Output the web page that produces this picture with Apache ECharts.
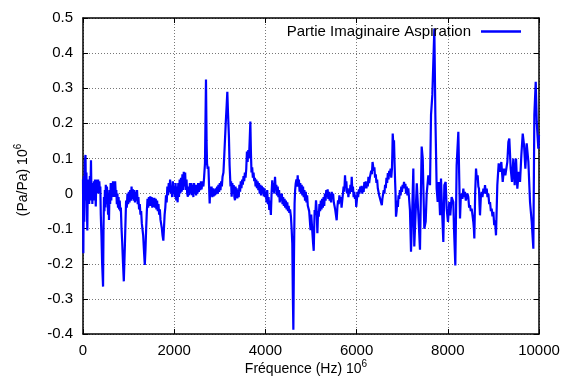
<!DOCTYPE html>
<html>
<head>
<meta charset="utf-8">
<script src="https://cdn.jsdelivr.net/npm/echarts@6/dist/echarts.min.js"></script>
<style>html,body{margin:0;padding:0;background:#fff}#c{width:563px;height:383px}</style>
</head>
<body>
<div id="c"></div>
<script>
// Imaginary part vs frequency, [Hz, value] pairs, in segments
var seg0to1000 = [[0,0.04],[8,-0.17],[18,0.05],[28,-0.08],[40,0.09],[55,0.11],[65,-0.02],[75,0.06],[85,-0.04],[95,-0.105],[105,0.03],[115,-0.02],[125,0.04],[135,-0.03],[150,0.05],[160,-0.02],[175,0.095],[185,0.0],[195,0.03],[205,-0.03],[215,0.02],[228,-0.02],[240,0.035],[252,-0.01],[263,0.04],[272,0.0],[280,-0.037],[290,0.03],[300,0.0],[312,0.04],[322,0.005],[332,0.04],[345,0.0],[358,0.035],[368,0.01],[380,0.02],[390,-0.06],[405,-0.12],[420,-0.2],[440,-0.265],[450,-0.1],[460,-0.01],[470,-0.05],[480,0.01],[490,-0.04],[500,0.025],[512,-0.03],[525,0.02],[540,-0.02],[550,-0.06],[562,0.0],[570,-0.075],[582,0.01],[595,-0.03],[608,0.03],[620,-0.02],[632,0.03],[645,-0.01],[658,0.035],[670,0.0],[682,0.03],[694,-0.01],[705,0.035],[718,0.0],[730,0.01],[742,-0.03],[755,0.0],[768,-0.04],[780,-0.01],[792,-0.045],[805,-0.02],[818,-0.05],[830,-0.04],[845,-0.1],[860,-0.14],[878,-0.2],[895,-0.25],[906,-0.25],[918,-0.15],[930,-0.09],[945,-0.02],[960,-0.04],[975,0.0],[990,-0.03]];
var seg1000to2600 = [[1005,0.005],[1020,-0.025],[1035,0.01],[1050,-0.02],[1065,0.02],[1080,-0.015],[1095,0.012],[1110,-0.02],[1125,0.01],[1140,-0.025],[1155,0.005],[1170,-0.02],[1185,0.01],[1200,-0.03],[1215,-0.01],[1230,-0.045],[1245,-0.03],[1260,-0.06],[1275,-0.05],[1290,-0.085],[1305,-0.08],[1320,-0.12],[1340,-0.17],[1355,-0.203],[1370,-0.16],[1385,-0.1],[1400,-0.05],[1415,-0.015],[1430,-0.04],[1445,-0.01],[1460,-0.035],[1475,-0.008],[1490,-0.035],[1505,-0.01],[1520,-0.04],[1535,-0.012],[1550,-0.038],[1565,-0.012],[1580,-0.04],[1595,-0.015],[1610,-0.045],[1625,-0.02],[1640,-0.05],[1655,-0.03],[1670,-0.06],[1685,-0.045],[1700,-0.075],[1715,-0.07],[1730,-0.1],[1745,-0.12],[1762,-0.134],[1775,-0.1],[1790,-0.06],[1805,-0.04],[1820,-0.005],[1835,-0.025],[1850,0.02],[1865,-0.005],[1880,0.03],[1895,0.005],[1910,0.04],[1925,0.0],[1940,0.02],[1955,-0.01],[1970,0.035],[1985,0.0],[2000,0.02],[2015,-0.01],[2030,0.03],[2045,-0.02],[2060,0.02],[2075,-0.025],[2090,0.03],[2105,-0.01],[2120,0.04],[2135,0.0],[2150,0.045],[2165,0.005],[2180,0.055],[2195,0.01],[2210,0.062],[2225,0.02],[2240,0.06],[2255,0.01],[2270,0.04],[2285,0.0],[2300,-0.009],[2315,0.02],[2330,-0.005],[2345,0.03],[2360,0.0],[2375,0.03],[2390,-0.005],[2405,0.025],[2420,-0.01],[2435,0.03],[2450,0.0],[2465,0.025],[2480,-0.005],[2495,0.025],[2510,0.0],[2525,0.03],[2540,0.005],[2555,0.03],[2570,0.01],[2585,0.035],[2600,0.012]];
var seg2600to4710 = [[2620,0.035],[2640,0.02],[2655,0.045],[2675,0.086],[2697,0.325],[2710,0.15],[2720,0.086],[2735,0.07],[2750,0.077],[2765,0.02],[2778,-0.028],[2790,0.02],[2805,-0.005],[2820,0.02],[2835,-0.01],[2850,0.015],[2865,-0.008],[2880,0.012],[2895,-0.005],[2910,0.015],[2925,-0.002],[2940,0.02],[2955,0.0],[2970,0.025],[2985,0.005],[3000,0.03],[3015,0.01],[3030,0.035],[3045,0.02],[3060,0.048],[3080,0.06],[3100,0.114],[3130,0.2],[3150,0.25],[3165,0.29],[3180,0.23],[3200,0.162],[3215,0.08],[3235,0.02],[3248,0.035],[3260,-0.009],[3275,0.03],[3290,0.0],[3305,0.024],[3320,-0.01],[3333,-0.019],[3345,0.02],[3358,-0.005],[3370,0.015],[3385,-0.014],[3400,0.01],[3415,-0.01],[3430,0.025],[3445,0.005],[3460,0.035],[3475,0.015],[3490,0.04],[3505,0.025],[3520,0.05],[3535,0.035],[3550,0.06],[3565,0.045],[3580,0.07],[3595,0.12],[3610,0.09],[3625,0.124],[3640,0.1],[3655,0.15],[3670,0.205],[3682,0.12],[3695,0.06],[3710,0.075],[3725,0.045],[3740,0.06],[3755,0.035],[3770,0.045],[3785,0.02],[3800,0.04],[3815,0.015],[3830,0.035],[3845,0.01],[3860,0.03],[3875,0.0],[3890,0.025],[3905,-0.005],[3920,0.022],[3935,0.0],[3950,0.018],[3965,-0.008],[3980,0.015],[3995,-0.01],[4010,0.005],[4025,-0.025],[4040,0.01],[4055,-0.03],[4070,-0.01],[4085,-0.047],[4100,-0.02],[4120,-0.061],[4135,0.0],[4150,0.038],[4165,0.005],[4180,0.03],[4195,0.0],[4211,0.048],[4225,0.01],[4240,0.025],[4255,-0.005],[4270,0.02],[4285,-0.01],[4300,0.01],[4315,-0.025],[4330,0.0],[4345,-0.02],[4360,0.0],[4375,-0.03],[4390,-0.01],[4405,-0.035],[4420,-0.015],[4435,-0.04],[4450,-0.02],[4465,-0.045],[4480,-0.025],[4495,-0.05],[4510,-0.035],[4525,-0.055],[4540,-0.045],[4560,-0.066],[4575,-0.1],[4590,-0.142],[4603,-0.3],[4613,-0.388],[4625,-0.2],[4640,-0.028],[4652,0.01],[4665,0.029],[4680,0.04],[4695,0.02],[4708,0.052]];
var seg4710to7140 = [[4720,0.02],[4735,0.04],[4750,0.005],[4765,0.03],[4780,0.0],[4795,0.025],[4810,-0.005],[4825,0.02],[4840,-0.01],[4855,0.01],[4870,-0.02],[4885,0.005],[4900,-0.025],[4915,-0.005],[4930,-0.035],[4945,-0.03],[4960,-0.05],[4975,-0.045],[4990,-0.104],[5005,-0.06],[5025,-0.1],[5045,-0.14],[5060,-0.163],[5070,-0.1],[5080,-0.047],[5095,-0.06],[5110,-0.019],[5125,-0.05],[5140,-0.113],[5155,-0.05],[5170,-0.066],[5185,-0.03],[5200,-0.05],[5215,-0.02],[5230,-0.045],[5245,-0.015],[5260,-0.04],[5275,-0.01],[5290,-0.035],[5305,0.0],[5320,-0.02],[5335,0.01],[5350,-0.01],[5365,0.012],[5380,-0.015],[5395,0.005],[5410,-0.02],[5425,0.0],[5440,-0.025],[5455,0.005],[5470,-0.015],[5485,0.0],[5500,-0.025],[5515,-0.02],[5530,-0.045],[5545,-0.04],[5563,-0.076],[5578,-0.04],[5593,-0.019],[5608,-0.03],[5623,-0.005],[5640,-0.025],[5655,-0.01],[5670,-0.04],[5685,-0.02],[5700,0.0],[5715,0.02],[5730,0.005],[5746,0.052],[5760,0.02],[5775,0.035],[5790,0.0],[5805,0.015],[5820,-0.01],[5835,0.01],[5850,0.0],[5865,0.025],[5880,0.005],[5893,0.048],[5905,0.01],[5920,0.02],[5935,-0.01],[5950,0.005],[5965,-0.015],[5980,-0.005],[5992,-0.038],[6005,-0.02],[6020,0.005],[6035,-0.01],[6050,0.012],[6065,0.0],[6080,0.02],[6095,0.005],[6110,0.022],[6125,0.0],[6140,0.02],[6155,0.005],[6170,0.033],[6185,0.015],[6200,0.035],[6215,0.015],[6230,0.03],[6245,0.02],[6260,0.048],[6275,0.03],[6290,0.045],[6305,0.04],[6320,0.065],[6335,0.055],[6350,0.09],[6362,0.095],[6375,0.065],[6390,0.075],[6405,0.045],[6420,0.055],[6435,0.03],[6450,0.04],[6465,0.015],[6480,0.02],[6495,-0.005],[6510,0.0],[6525,-0.02],[6540,-0.025],[6553,-0.033],[6565,-0.015],[6580,-0.01],[6595,0.01],[6610,0.0],[6625,0.025],[6640,0.015],[6655,0.045],[6670,0.03],[6685,0.058],[6700,0.04],[6715,0.065],[6730,0.05],[6745,0.071],[6760,0.045],[6775,0.07],[6785,0.12],[6792,0.171],[6805,0.14],[6820,0.152],[6832,0.09],[6843,0.04],[6854,0.0],[6864,-0.066],[6878,-0.05],[6890,-0.02],[6905,-0.038],[6920,-0.005],[6935,-0.015],[6950,0.01],[6965,-0.005],[6980,0.02],[6995,0.005],[7010,0.025],[7025,0.015],[7040,0.033],[7055,0.015],[7070,0.028],[7085,0.0],[7100,0.02],[7115,-0.005],[7134,0.015]];
var seg7140to8270 = [[7170,-0.047],[7193,-0.166],[7215,-0.076],[7244,0.071],[7265,-0.151],[7300,-0.156],[7320,0.029],[7350,-0.047],[7390,-0.16],[7427,0.134],[7450,0.1],[7485,-0.1],[7515,-0.08],[7537,0.0],[7573,0.052],[7610,0.024],[7632,0.224],[7661,0.281],[7705,0.47],[7727,0.224],[7756,0.014],[7778,-0.024],[7800,0.033],[7830,-0.062],[7851,0.043],[7873,-0.043],[7902,-0.138],[7924,0.024],[7953,0.033],[7975,-0.043],[8004,-0.081],[8033,-0.024],[8055,-0.062],[8084,-0.01],[8121,-0.024],[8136,-0.1],[8165,-0.205],[8194,0.081],[8231,0.176],[8253,0.176]];
var seg8270to10000 = [[8268,-0.071],[8285,-0.01],[8304,0.0],[8320,-0.015],[8341,0.014],[8358,-0.01],[8377,0.005],[8395,-0.02],[8414,-0.024],[8430,0.0],[8450,-0.01],[8468,-0.04],[8487,-0.033],[8505,-0.05],[8523,-0.043],[8540,-0.06],[8560,-0.081],[8572,-0.1],[8582,-0.128],[8600,0.0],[8619,0.071],[8637,0.04],[8655,0.052],[8670,0.02],[8684,0.014],[8695,-0.03],[8706,-0.062],[8725,-0.01],[8743,0.005],[8760,-0.01],[8780,0.014],[8798,0.0],[8816,0.024],[8835,0.0],[8853,0.014],[8870,-0.01],[8889,0.0],[8908,-0.03],[8926,-0.024],[8945,-0.05],[8962,-0.043],[8980,-0.065],[8999,-0.052],[9018,-0.09],[9035,-0.076],[9057,-0.119],[9086,0.024],[9116,0.086],[9145,0.062],[9174,0.09],[9204,0.033],[9233,0.071],[9262,0.052],[9306,0.09],[9328,0.147],[9349,0.157],[9379,0.071],[9408,0.033],[9437,0.1],[9467,0.024],[9496,0.1],[9525,0.014],[9555,0.062],[9584,0.033],[9613,0.109],[9643,0.171],[9672,0.138],[9701,0.071],[9730,0.143],[9767,0.09],[9803,-0.024],[9840,-0.081],[9876,-0.157],[9898,0.224],[9928,0.318],[9950,0.204],[9985,0.128],[10000,0.166]];
var xTicks = {min: 0, max: 10000, interval: 2000};
var yTicks = {min: -0.4, max: 0.5, interval: 0.1};
var seriesName = 'Partie Imaginaire Aspiration';
var xTitle = 'Fréquence (Hz) 10';
var yTitle = '(Pa/Pa) 10';
var expText = '6';

var pts = [].concat(seg0to1000, seg1000to2600, seg2600to4710, seg4710to7140, seg7140to8270, seg8270to10000);
var FONT = '"Liberation Sans", Arial, sans-serif';
var chart = echarts.init(document.getElementById('c'), null, {renderer: 'canvas'});
var gridLine = {show: true, lineStyle: {color: '#777', type: [1, 2], width: 1}};
var frame = {show: true, onZero: false, lineStyle: {color: '#000', width: 1.5}};
var tick = {show: true, inside: true, length: 5, lineStyle: {color: '#000', width: 1}};
var lbl = {color: '#000', fontSize: 15, fontFamily: FONT, formatter: function (v) { return String(v); }};
var richT = {a: {fontSize: 14, fontFamily: FONT, fill: '#000'}, s: {fontSize: 10, fontFamily: FONT, fill: '#000', padding: [0, 0, 9, 0]}};
chart.setOption({
  animation: false,
  backgroundColor: '#fff',
  grid: {left: 83, right: 24, top: 18, bottom: 49, containLabel: false},
  legend: {
    right: 37, top: 19, align: 'right', icon: 'rect', itemWidth: 40, itemHeight: 2.5,
    textStyle: {color: '#000', fontSize: 15, fontFamily: FONT, padding: [0, 5, 0, 0]},
    data: [seriesName]
  },
  xAxis: [
    {type: 'value', min: xTicks.min, max: xTicks.max, interval: xTicks.interval, position: 'bottom',
     axisLine: frame, axisTick: tick, splitLine: gridLine, axisLabel: Object.assign({margin: 9}, lbl)},
    {type: 'value', min: xTicks.min, max: xTicks.max, interval: xTicks.interval, position: 'top',
     axisLine: frame, axisTick: tick, splitLine: {show: false}, axisLabel: {show: false}}
  ],
  yAxis: [
    {type: 'value', min: yTicks.min, max: yTicks.max, interval: yTicks.interval, position: 'left',
     axisLine: frame, axisTick: tick, splitLine: gridLine, axisLabel: Object.assign({margin: 10}, lbl)},
    {type: 'value', min: yTicks.min, max: yTicks.max, interval: yTicks.interval, position: 'right',
     axisLine: frame, axisTick: tick, splitLine: {show: false}, axisLabel: {show: false}}
  ],
  series: [{
    name: seriesName, type: 'line', data: pts, showSymbol: false, symbol: 'none',
    color: '#0000ff', lineStyle: {color: '#0000ff', width: 2.2}, xAxisIndex: 0, yAxisIndex: 0
  }],
  graphic: [
    {type: 'text', x: 306, y: 369,
     style: {text: '{a|' + xTitle + '}{s|' + expText + '}', fill: '#000', align: 'center', verticalAlign: 'middle', rich: richT}},
    {type: 'text', x: 23, y: 180, rotation: Math.PI / 2,
     style: {text: '{a|' + yTitle + '}{s|' + expText + '}', fill: '#000', align: 'center', verticalAlign: 'middle', rich: richT}}
  ]
});
</script>
</body>
</html>
